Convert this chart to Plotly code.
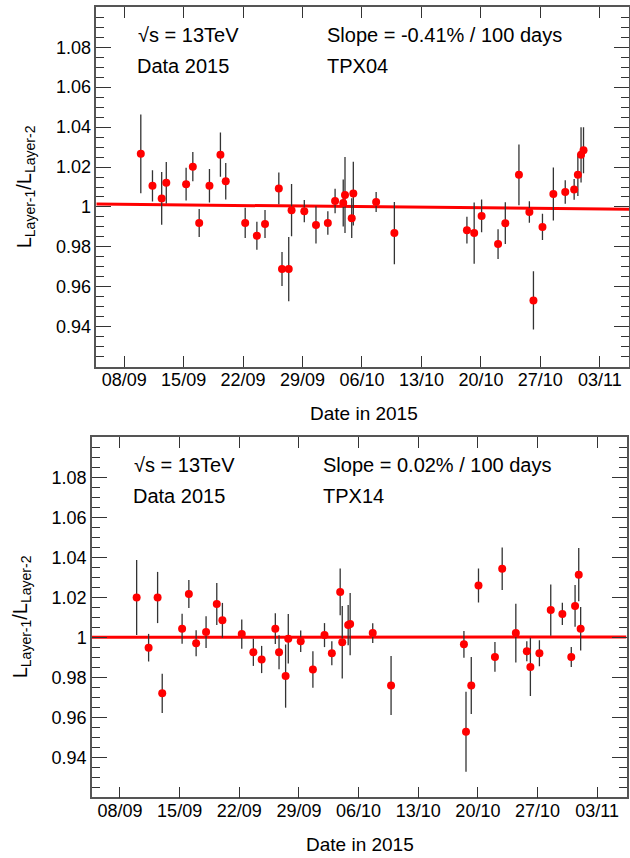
import plotly.graph_objects as go
import pandas as pd

# ---------------- data ----------------
top_dates = [
    "2015-09-09 23:00", "2015-09-11 08:00", "2015-09-12 10:00", "2015-09-12 23:00",
    "2015-09-15 07:00", "2015-09-16 02:00", "2015-09-16 20:00", "2015-09-18 01:00",
    "2015-09-19 08:00", "2015-09-19 23:00", "2015-09-22 06:00", "2015-09-23 15:00",
    "2015-09-24 14:00", "2015-09-26 05:00", "2015-09-26 14:00", "2015-09-27 09:00",
    "2015-09-27 17:00", "2015-09-29 05:00", "2015-09-30 14:00", "2015-10-01 23:30",
    "2015-10-02 20:00", "2015-10-03 19:00", "2015-10-04 00:00", "2015-10-04 19:00",
    "2015-10-04 23:30", "2015-10-07 16:00", "2015-10-09 19:30", "2015-10-18 08:30",
    "2015-10-19 05:00", "2015-10-20 02:00", "2015-10-22 00:30", "2015-10-22 21:00",
    "2015-10-24 11:30", "2015-10-25 17:00", "2015-10-26 04:30", "2015-10-27 06:00",
    "2015-10-28 12:45", "2015-10-29 22:20", "2015-10-30 23:30", "2015-10-31 10:00",
    "2015-10-31 19:00", "2015-11-01 02:00",
]
top_ratio = [
    1.0266, 1.0106, 1.0043, 1.0121, 1.0114, 1.0202, 0.9920, 1.0106,
    1.0262, 1.0129, 0.9920, 0.9856, 0.9915, 1.0093, 0.9689, 0.9689,
    0.9984, 0.9979, 0.9910, 0.9920, 1.0030, 1.0020, 1.0060, 0.9944,
    1.0067, 1.0025, 0.9869, 0.9884, 0.9869, 0.9955, 0.9814, 0.9919,
    1.0161, 0.9975, 0.9532, 0.9900, 1.0065, 1.0075, 1.0088, 1.0161,
    1.0261, 1.0284,
]
top_err = [
    0.0197, 0.0078, 0.0132, 0.0104, 0.0082, 0.0073, 0.0070, 0.0084,
    0.0111, 0.0091, 0.0076, 0.0070, 0.0070, 0.0080, 0.0085, 0.0161,
    0.0131, 0.0056, 0.0093, 0.0059, 0.0061, 0.0118, 0.0190, 0.0100,
    0.0160, 0.0050, 0.0156, 0.0067, 0.0153, 0.0082, 0.0074, 0.0104,
    0.0152, 0.0054, 0.0146, 0.0066, 0.0133, 0.0059, 0.0052, 0.0106,
    0.0138, 0.0115,
]

bot_dates = [
    "2015-09-09 23:00", "2015-09-11 08:40", "2015-09-12 10:00", "2015-09-12 23:00",
    "2015-09-15 07:00", "2015-09-16 02:00", "2015-09-16 22:30", "2015-09-18 02:30",
    "2015-09-19 08:40", "2015-09-20 00:30", "2015-09-22 07:00", "2015-09-23 15:40",
    "2015-09-24 15:00", "2015-09-26 05:30", "2015-09-26 16:00", "2015-09-27 10:30",
    "2015-09-27 18:00", "2015-09-29 05:00", "2015-09-30 15:20", "2015-10-02 00:00",
    "2015-10-02 20:40", "2015-10-03 20:10", "2015-10-04 02:00", "2015-10-04 18:40",
    "2015-10-05 00:15", "2015-10-07 15:50", "2015-10-09 19:30", "2015-10-18 08:40",
    "2015-10-18 14:30", "2015-10-19 05:20", "2015-10-20 01:40", "2015-10-22 00:00",
    "2015-10-22 20:25", "2015-10-24 10:50", "2015-10-25 17:45", "2015-10-26 03:50",
    "2015-10-27 05:15", "2015-10-28 13:10", "2015-10-29 21:50", "2015-10-30 23:00",
    "2015-10-31 09:40", "2015-10-31 20:00", "2015-11-01 01:25",
]
bot_ratio = [
    1.0199, 0.9948, 1.0199, 0.9720, 1.0043, 1.0217, 0.9970, 1.0026,
    1.0167, 1.0085, 1.0016, 0.9925, 0.9889, 1.0043, 0.9925, 0.9806,
    0.9993, 0.9980, 0.9839, 1.0011, 0.9920, 1.0227, 0.9975, 1.0061,
    1.0066, 1.0021, 0.9759, 0.9965, 0.9528, 0.9759, 1.0259, 0.9902,
    1.0343, 1.0021, 0.9930, 0.9852, 0.9920, 1.0136, 1.0117, 0.9902,
    1.0157, 1.0313, 1.0043,
]
bot_err = [
    0.0187, 0.0069, 0.0128, 0.0098, 0.0075, 0.0070, 0.0065, 0.0079,
    0.0105, 0.0087, 0.0073, 0.0068, 0.0068, 0.0077, 0.0085, 0.0158,
    0.0124, 0.0054, 0.0091, 0.0060, 0.0060, 0.0117, 0.0181, 0.0101,
    0.0156, 0.0049, 0.0148, 0.0067, 0.0200, 0.0143, 0.0085, 0.0074,
    0.0106, 0.0147, 0.0050, 0.0146, 0.0065, 0.0128, 0.0056, 0.0050,
    0.0104, 0.0133, 0.0109,
]

# linear fits: value at reference date and slope in % per 100 days
fit_ref_date = "2015-09-08"
top_fit_p0 = 1.0013
top_slope_pct = -0.41
bot_fit_p0 = 1.0000
bot_slope_pct = 0.02

x_tickvals = ["2015-09-08", "2015-09-15", "2015-09-22", "2015-09-29", "2015-10-06",
              "2015-10-13", "2015-10-20", "2015-10-27", "2015-11-03"]
x_ticktext = ["08/09", "15/09", "22/09", "29/09", "06/10", "13/10", "20/10", "27/10", "03/11"]
y_tickvals = [0.94, 0.96, 0.98, 1.0, 1.02, 1.04, 1.06, 1.08]
y_ticktext = ["0.94", "0.96", "0.98", "1", "1.02", "1.04", "1.06", "1.08"]

x_range = ["2015-09-04 17:15", "2015-11-06 10:30"]
y_range = [0.92, 1.10]

top_labels = ["√s = 13TeV", "Data 2015", "Slope = -0.41% / 100 days", "TPX04"]
bot_labels = ["√s = 13TeV", "Data 2015", "Slope = 0.02% / 100 days", "TPX14"]
x_title = "Date in 2015"
y_title = "L<sub>Layer-1</sub>/L<sub>Layer-2</sub>"

# ---------------- figure ----------------
W, H = 630, 858
FONT = "Liberation Sans, Arial, Helvetica, sans-serif"


def fit_line(p0, slope_pct):
    ref = pd.Timestamp(fit_ref_date)
    ys = []
    for d in x_range:
        days = (pd.Timestamp(d) - ref).total_seconds() / 86400.0
        ys.append(p0 * (1 + slope_pct / 100.0 * days / 100.0))
    return ys


fig = go.Figure()

panels = [
    ("x", "y", top_dates, top_ratio, top_err, top_fit_p0, top_slope_pct),
    ("x2", "y2", bot_dates, bot_ratio, bot_err, bot_fit_p0, bot_slope_pct),
]
for xa, ya, d, r, e, p0, s in panels:
    fig.add_trace(go.Scatter(
        x=x_range, y=fit_line(p0, s), mode="lines",
        line=dict(color="#ff0000", width=3), xaxis=xa, yaxis=ya,
        hoverinfo="skip"))
    fig.add_trace(go.Scatter(
        x=d, y=r, mode="markers",
        marker=dict(color="#ff0000", size=8, line=dict(width=0)),
        error_y=dict(type="data", array=e, visible=True, color="#333333",
                     thickness=1.3, width=0),
        xaxis=xa, yaxis=ya))


def px_x(v):
    return v / W


def px_y(v):
    return 1 - v / H


axis_common = dict(
    showline=True, linecolor="#555555", linewidth=1.5, mirror="ticks",
    ticks="inside", tickcolor="#333333", tickwidth=1.2,
    showgrid=False, zeroline=False,
    tickfont=dict(family=FONT, size=18, color="black"),
)

x_common = dict(axis_common, type="date", range=x_range, tickmode="array",
                tickvals=x_tickvals, ticktext=x_ticktext, ticklen=11,
                ticklabelstandoff=-4)
y_common = dict(axis_common, range=y_range, tickmode="array",
                tickvals=y_tickvals, ticktext=y_ticktext, ticklen=15,
                minor=dict(tickmode="linear", tick0=0.92, dtick=0.005, ticklen=8,
                           ticks="inside", tickcolor="#333333", tickwidth=1.2,
                           showgrid=False))

top_box = (96.3, 629.0, 7.3, 366.7)
bot_box = (92.0, 626.5, 437.3, 797.3)

fig.update_layout(
    width=W, height=H,
    margin=dict(l=0, r=0, t=0, b=0),
    paper_bgcolor="white", plot_bgcolor="white",
    showlegend=False,
    xaxis=dict(x_common, domain=[px_x(top_box[0]), px_x(top_box[1])], anchor="y"),
    yaxis=dict(y_common, domain=[px_y(top_box[3]), px_y(top_box[2])], anchor="x"),
    xaxis2=dict(x_common, domain=[px_x(bot_box[0]), px_x(bot_box[1])], anchor="y2"),
    yaxis2=dict(y_common, domain=[px_y(bot_box[3]), px_y(bot_box[2])], anchor="x2"),
)

ann = []
for box, labels in ((top_box, top_labels), (bot_box, bot_labels)):
    l, r, t, b = box
    x1 = l + 40
    x2 = l + 228.7
    ann += [
        dict(text=labels[0], x=px_x(x1), y=px_y(t + 28), xanchor="left", yanchor="middle"),
        dict(text=labels[1], x=px_x(x1 - 1.5), y=px_y(t + 58.5), xanchor="left", yanchor="middle"),
        dict(text=labels[2], x=px_x(x2), y=px_y(t + 28), xanchor="left", yanchor="middle"),
        dict(text=labels[3], x=px_x(x2), y=px_y(t + 58.5), xanchor="left", yanchor="middle"),
        dict(text=x_title, x=px_x((l + r) / 2 + 1), y=px_y(b + 47), xanchor="center",
             yanchor="middle", font=dict(family=FONT, size=19, color="black")),
        dict(text=y_title, x=px_x(l - 71), y=px_y((t + b) / 2), xanchor="center",
             yanchor="middle", textangle=-90, font=dict(family=FONT, size=20, color="black")),
    ]
for a in ann:
    a.setdefault("font", dict(family=FONT, size=20, color="black"))
    a.update(xref="paper", yref="paper", showarrow=False)
fig.update_layout(annotations=ann)

fig.write_html(
    "out.html",
    config={"displayModeBar": False},
    post_script="document.body.style.margin='0';document.body.style.padding='0';"
                "document.documentElement.style.overflow='hidden';"
                "document.body.style.overflow='hidden';",
)
